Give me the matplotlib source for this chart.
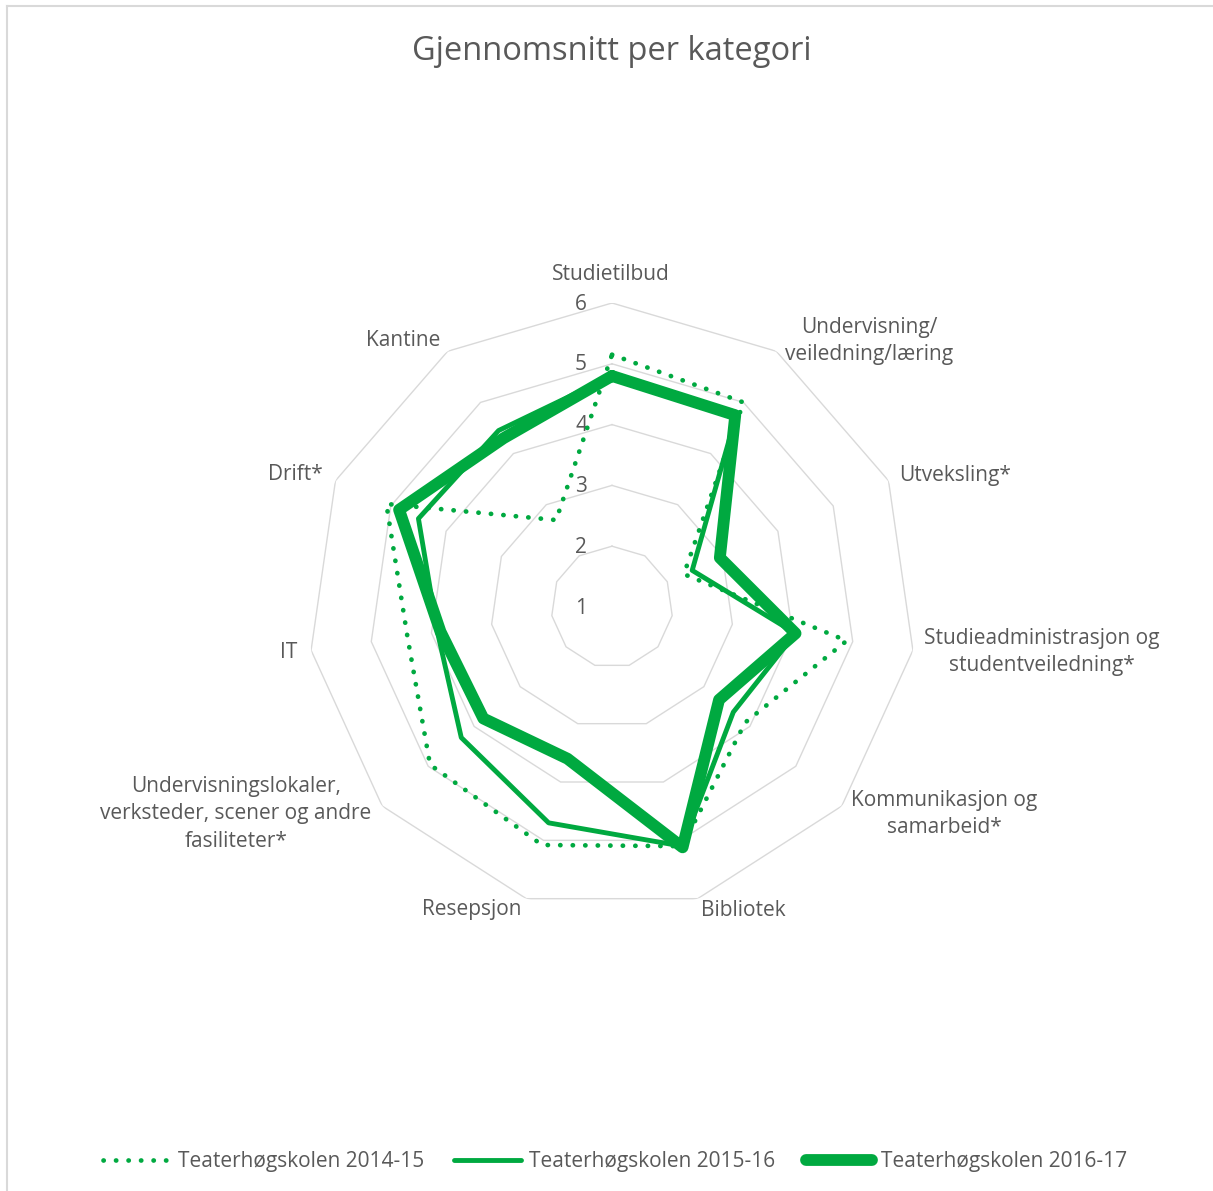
import numpy as np
import matplotlib
matplotlib.use("Agg")
import matplotlib.pyplot as plt
from matplotlib.transforms import offset_copy
from matplotlib.lines import Line2D

plt.rcParams['font.family'] = ['Open Sans', 'DejaVu Sans']

categories = [
    "Studietilbud",
    "Undervisning/\nveiledning/læring",
    "Utveksling*",
    "Studieadministrasjon og\nstudentveiledning*",
    "Kommunikasjon og\nsamarbeid*",
    "Bibliotek",
    "Resepsjon",
    "Undervisningslokaler,\nverksteder, scener og andre\nfasiliteter*",
    "IT",
    "Drift*",
    "Kantine",
]
series_names = ["Teaterhøgskolen 2014-15", "Teaterhøgskolen 2015-16", "Teaterhøgskolen 2016-17"]
vals_2014_15 = [5.15, 5.0, 2.3, 4.9, 3.9, 5.1, 5.08, 4.96, 4.4, 5.08, 2.7]
vals_2015_16 = [4.8, 4.8, 2.45, 4.05, 3.64, 5.1, 4.7, 4.28, 3.9, 4.5, 4.45]
vals_2016_17 = [4.8, 4.75, 2.95, 4.05, 3.33, 5.12, 3.6, 3.8, 3.85, 4.85, 4.3]
ring_ticks = [1, 2, 3, 4, 5, 6]

W, H = 1213, 1191
DPI = 100
fig = plt.figure(figsize=(W / DPI, H / DPI), dpi=DPI)
fig.patch.set_facecolor("white")

def px(x, y):
    return x / W, 1 - y / H

# chart border (top and left visible)
fig.add_artist(Line2D([px(7, 0)[0], px(7, 0)[0]], [px(0, 6)[1], 0], color="#D9D9D9", lw=1.5))
fig.add_artist(Line2D([px(7, 0)[0], 1], [px(0, 6)[1], px(0, 6)[1]], color="#D9D9D9", lw=1.5))

cx, cy, R = 612, 607, 304
ax = fig.add_axes([(cx - R) / W, 1 - (cy + R) / H, 2 * R / W, 2 * R / H], projection="polar")
ax.set_theta_zero_location("N")
ax.set_theta_direction(-1)
ax.set_ylim(1, 6)
ax.grid(False)
ax.set_xticks([])
ax.set_yticks([])
ax.spines["polar"].set_visible(False)
ax.patch.set_alpha(0)

n = len(categories)
ang = np.linspace(0, 2 * np.pi, n, endpoint=False)
ang_c = np.append(ang, ang[0])

gray = "#D9D9D9"
for v in ring_ticks[1:]:
    ax.plot(ang_c, [v] * (n + 1), color=gray, lw=1.0, zorder=1)

txt_color = "#595959"
FS = 15
tr = offset_copy(ax.transData, fig=fig, x=-31, y=-1, units="dots")
for v in ring_ticks:
    ax.text(0, v, str(v), transform=tr, ha="center", va="center", fontsize=FS, color=txt_color)

green = "#00A940"
def closed(v):
    return np.append(v, v[0])

l1, = ax.plot(ang_c, closed(vals_2014_15), color=green, lw=3.4,
              linestyle=(0, (0.05, 2.6)), dash_capstyle="round", zorder=3)
l2, = ax.plot(ang_c, closed(vals_2015_16), color=green, lw=3.5,
              solid_joinstyle="round", solid_capstyle="round", zorder=4)
l3, = ax.plot(ang_c, closed(vals_2016_17), color=green, lw=8.5,
              solid_joinstyle="round", solid_capstyle="round", zorder=5)

# category labels
label_pos = [(611, 275), (869, 341), (955, 475), (1042, 652), (944, 814),
             (743, 910), (472, 910), (236, 814), (289, 652), (295, 475), (403, 341)]
for lab, (x, y) in zip(categories, label_pos):
    fig.text(*px(x, y), lab, ha="center", va="center", fontsize=FS, color=txt_color,
             linespacing=1.4)

fig.text(*px(612, 52), "Gjennomsnitt per kategori", ha="center", va="center",
         fontsize=23.5, color=txt_color)

leg = fig.legend([l1, l2, l3], series_names, loc="center", bbox_to_anchor=px(615, 1162),
                 ncol=3, frameon=False, fontsize=FS, handlelength=3.2, handletextpad=0.4,
                 columnspacing=1.45, labelcolor=txt_color)

fig.savefig("out.png", dpi=DPI)
